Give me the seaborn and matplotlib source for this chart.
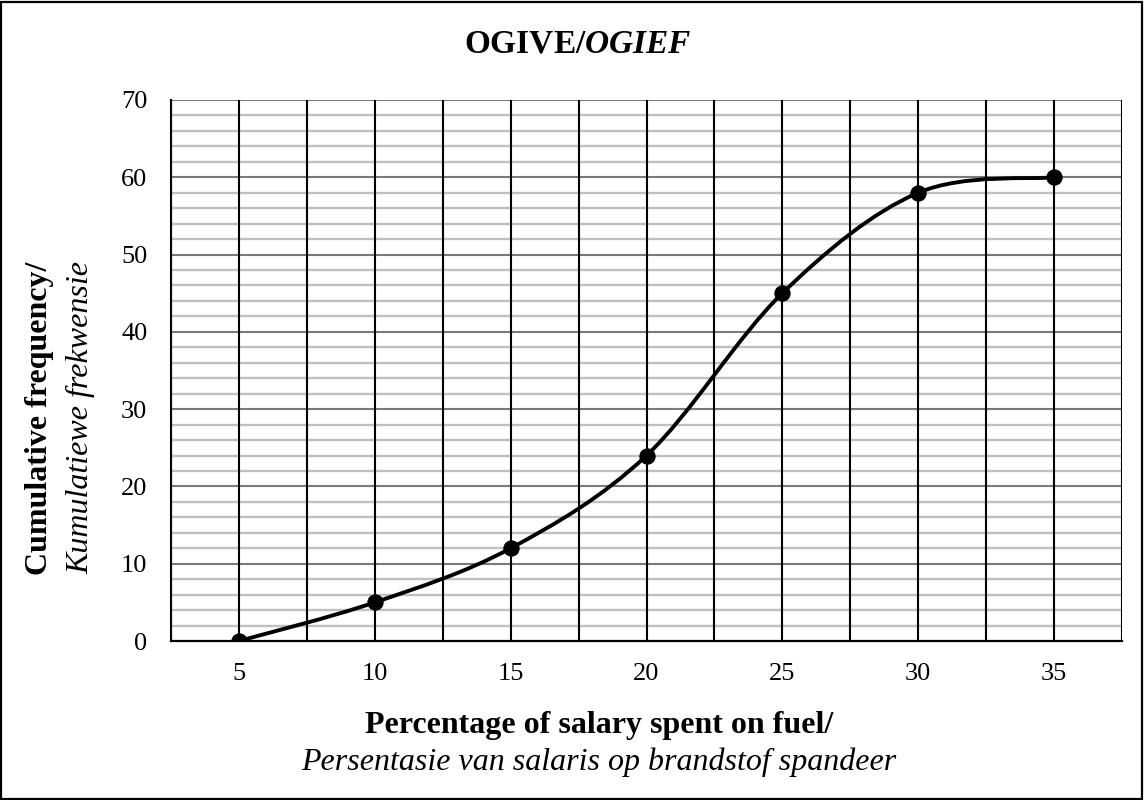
import numpy as np
import pandas as pd
import seaborn as sns
import matplotlib.pyplot as plt
from matplotlib.path import Path
from matplotlib.patches import PathPatch, Rectangle

# data read from the ogive
percent = ['5', '10', '15', '20', '25', '30', '35']
cum_freq = [0, 5, 12, 24, 45, 58, 60]

sns.set_style('white')
plt.rcParams['font.family'] = ['Liberation Serif', 'DejaVu Serif']
plt.rcParams['text.color'] = 'black'
plt.rcParams['mathtext.fontset'] = 'custom'
plt.rcParams['mathtext.it'] = 'Liberation Serif:italic:bold'
plt.rcParams['mathtext.rm'] = 'Liberation Serif:bold'

df = pd.DataFrame({'percent': percent, 'cum_freq': cum_freq})
df['pos'] = np.arange(len(percent))

W, H = 1144, 800
fig = plt.figure(figsize=(W / 100, H / 100), dpi=100)
ax = fig.add_axes([171 / W, 1 - 641 / H, (1122 - 171) / W, (641 - 100) / H])

# smoothed line (Excel style bezier through the points)
pts = df[['pos', 'cum_freq']].to_numpy(dtype=float)
ext = np.vstack([pts[0], pts, pts[-1]])
verts = [tuple(pts[0])]
codes = [Path.MOVETO]
for i in range(1, len(ext) - 2):
    p0, p1, p2, p3 = ext[i - 1], ext[i], ext[i + 1], ext[i + 2]
    c1 = p1 + (p2 - p0) / 6
    c2 = p2 - (p3 - p1) / 6
    verts += [tuple(c1), tuple(c2), tuple(p2)]
    codes += [Path.CURVE4] * 3
ax.add_patch(PathPatch(Path(verts, codes), facecolor='none', edgecolor='black', lw=2.8,
                       capstyle='round', zorder=4))

sns.lineplot(data=df, x='pos', y='cum_freq', ax=ax, linestyle='none', marker='o',
             markersize=11, color='black', markeredgecolor='black', zorder=5)

ax.set_xlim(-0.5, len(percent) - 0.5)
ax.set_ylim(0, 70)
ax.set_xticks(df['pos'])
ax.set_xticklabels(percent)
ax.set_yticks(range(0, 71, 10))
ax.tick_params(axis='both', length=0, labelsize=19, colors='black')
ax.tick_params(axis='y', pad=17)
ax.tick_params(axis='x', pad=16)

# gridlines
for y in range(0, 71, 2):
    if y % 10:
        ax.axhline(y, color='#c0c0c0', lw=1.7, zorder=1)
for y in range(10, 71, 10):
    ax.axhline(y, color='#7a7a7a', lw=1.5, zorder=2)
for x in np.arange(-0.5, len(percent), 0.5):
    ax.axvline(x, color='black', lw=1.5, zorder=3)

for s in ['top', 'right']:
    ax.spines[s].set_visible(False)
ax.spines['left'].set_color('black')
ax.spines['bottom'].set_color('black')
ax.spines['left'].set_linewidth(1.5)
ax.spines['bottom'].set_linewidth(1.6)
ax.set_xlabel('')
ax.set_ylabel('')

# title and axis titles
fig.text(578 / W, 1 - 44 / H, r'OGIVE/$\mathit{OGIEF}$', ha='center', va='center',
         fontsize=24, fontweight='bold')
fig.text(599 / W, 1 - 726 / H, 'Percentage of salary spent on fuel/', ha='center', va='center',
         fontsize=23, fontweight='bold')
fig.text(599 / W, 1 - 762 / H, 'Persentasie van salaris op brandstof spandeer', ha='center',
         va='center', fontsize=23, fontstyle='italic')
fig.text(40 / W, 1 - 418 / H, 'Cumulative frequency/', ha='center', va='center',
         rotation=90, fontsize=23, fontweight='bold')
fig.text(81 / W, 1 - 418 / H, 'Kumulatiewe frekwensie', ha='center', va='center',
         rotation=90, fontsize=23, fontstyle='italic')

# outer frame
fig.patches.append(Rectangle((0.001, 0.001), 0.997, 0.997, transform=fig.transFigure,
                             fill=False, edgecolor='black', lw=1.6))

fig.savefig('out.png', dpi=100)
